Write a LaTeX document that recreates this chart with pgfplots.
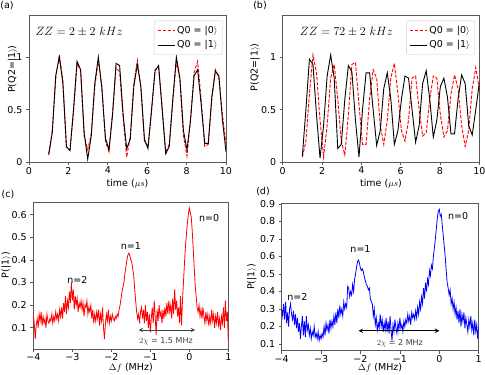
\documentclass[border=0pt]{standalone}
\usepackage{fontspec}
\setmainfont{DejaVu Sans}
\usepackage{pgfplots}
\pgfplotsset{compat=1.18}

\newcommand\tk{\fontsize{9.5}{11}\selectfont}

\pgfplotsset{
  panel/.style={
    scale only axis,
    axis line style={black!65, line width=0.6pt},
    tick style={black!65, line width=0.6pt},
    tick align=outside, major tick length=3pt,
    xtick pos=bottom, ytick pos=left,
    ticklabel style={font=\tk},
    xticklabel style={inner sep=1.5pt},
    label style={font=\tk},
    /pgf/number format/assume math mode=true,
  },
  timepanel/.style={
    panel, xmin=0, xmax=10, ymin=0, ymax=1.4,
    xtick={0,2,4,6,8,10}, xticklabels={0,2,4,6,8,10},
    ytick={0,0.5,1}, yticklabels={0,0.5,1},
    xlabel={time ($\mu s$)}, ylabel={P(Q2=|1$\rangle$)},
    xlabel style={at={(axis description cs:0.5,-0.143)}, anchor=center},
    legend cell align=left,
    legend style={anchor=north east, draw=black!20, rounded corners=2pt,
      font=\tk, fill=white, row sep=2pt, inner sep=3pt},
  },
  specpanel/.style={
    panel, xmin=-4, xmax=1,
    xtick={-4,-3,-2,-1,0,1}, xticklabels={−4,−3,−2,−1,0,1},
    xlabel={$\Delta f$ (MHz)}, ylabel={P(|1$\rangle$)},
  },
  zero/.style={red, line width=0.9pt, dash pattern=on 3.5pt off 1.5pt},
  one/.style={black, line width=0.9pt},
}

% time traces, t = 1 + 0.18 k
\pgfplotstableread{
t     a0    a1    b0    b1
1.00  0.08  0.07  0.05  0.06
1.18  0.30  0.28  0.20  0.50
1.36  0.80  0.83  0.65  0.98
1.54  1.02  1.00  1.02  0.93
1.72  0.78  0.75  0.85  0.45
1.90  0.14  0.15  0.40  0.04
2.08  0.12  0.11  0.05  0.35
2.26  0.48  0.50  0.35  0.82
2.44  0.94  0.96  0.80  1.02
2.62  0.87  0.88  0.93  0.80
2.80  0.25  0.28  0.60  0.13
2.98  0.12  0.03  0.20  0.17
3.16  0.27  0.25  0.07  0.60
3.34  0.72  0.75  0.45  0.92
3.52  0.97  1.00  0.93  0.86
3.70  0.72  0.70  0.95  0.40
3.88  0.20  0.23  0.55  0.05
4.06  0.10  0.12  0.17  0.50
4.24  0.47  0.45  0.17  0.85
4.42  0.90  0.94  0.60  0.85
4.60  0.86  0.92  0.88  0.50
4.78  0.42  0.45  0.80  0.16
4.96  0.05  0.13  0.35  0.30
5.14  0.25  0.22  0.17  0.70
5.32  0.75  0.72  0.40  0.85
5.50  0.97  0.93  0.80  0.60
5.68  0.70  0.72  0.94  0.17
5.86  0.20  0.22  0.65  0.30
6.04  0.15  0.13  0.30  0.60
6.22  0.48  0.50  0.20  0.82
6.40  0.88  0.87  0.40  0.80
6.58  0.90  0.92  0.80  0.50
6.76  0.52  0.50  0.82  0.19
6.94  0.10  0.08  0.50  0.35
7.12  0.17  0.15  0.25  0.75
7.30  0.58  0.60  0.28  0.87
7.48  0.96  1.00  0.60  0.60
7.66  0.78  0.80  0.82  0.24
7.84  0.25  0.30  0.80  0.40
8.02  0.06  0.12  0.45  0.72
8.20  0.42  0.40  0.24  0.80
8.38  0.85  0.82  0.30  0.62
8.56  0.96  0.88  0.65  0.27
8.74  0.60  0.55  0.83  0.27
8.92  0.15  0.18  0.70  0.60
9.10  0.17  0.18  0.35  0.83
9.28  0.60  0.62  0.15  0.75
9.46  0.88  0.87  0.30  0.35
9.64  0.80  0.82  0.70  0.26
9.82  0.45  0.40  0.90  0.50
10.00 0.17  0.10  0.70  0.75
}\timedata

\pgfplotstableread{
f      c     d
-4.000 0.156 0.30
-3.975 0.12 0.26
-3.950 0.05 0.33
-3.925 0.11 0.24
-3.900 0.14 0.34
-3.875 0.10 0.22
-3.850 0.16 0.28
-3.825 0.13 0.20
-3.800 0.17 0.30
-3.775 0.11 0.33
-3.750 0.15 0.27
-3.725 0.12 0.24
-3.700 0.14 0.29
-3.675 0.10 0.21
-3.650 0.16 0.27
-3.625 0.13 0.19
-3.600 0.12 0.25
-3.575 0.14 0.17
-3.550 0.13 0.22
-3.525 0.16 0.13
-3.500 0.12 0.20
-3.475 0.15 0.26
-3.450 0.13 0.15
-3.425 0.17 0.23
-3.400 0.14 0.14
-3.375 0.16 0.26
-3.350 0.13 0.18
-3.325 0.18 0.21
-3.300 0.15 0.15
-3.275 0.19 0.19
-3.250 0.14 0.13
-3.225 0.21 0.17
-3.200 0.17 0.15
-3.175 0.24 0.20
-3.150 0.16 0.14
-3.125 0.22 0.16
-3.100 0.19 0.13
-3.075 0.26 0.17
-3.050 0.21 0.12
-3.025 0.30 0.15
-3.000 0.22 0.13
-2.975 0.27 0.16
-2.950 0.18 0.14
-2.925 0.24 0.20
-2.900 0.20 0.15
-2.875 0.23 0.22
-2.850 0.17 0.18
-2.825 0.21 0.21
-2.800 0.19 0.16
-2.775 0.22 0.24
-2.750 0.18 0.19
-2.725 0.21 0.23
-2.700 0.15 0.20
-2.675 0.20 0.26
-2.650 0.19 0.21
-2.625 0.22 0.28
-2.600 0.16 0.22
-2.575 0.19 0.30
-2.550 0.17 0.25
-2.525 0.20 0.32
-2.500 0.14 0.27
-2.475 0.18 0.30
-2.450 0.12 0.26
-2.425 0.16 0.34
-2.400 0.13 0.30
-2.375 0.17 0.33
-2.350 0.14 0.31
-2.325 0.18 0.43
-2.300 0.11 0.42
-2.275 0.16 0.37
-2.250 0.13 0.40
-2.225 0.19 0.38
-2.200 0.10 0.44
-2.175 0.05 0.40
-2.150 0.12 0.47
-2.125 0.16 0.50
-2.100 0.13 0.54
-2.075 0.18 0.57
-2.050 0.12 0.58
-2.025 0.15 0.56
-2.000 0.13 0.53
-1.975 0.16 0.52
-1.950 0.14 0.53
-1.925 0.13 0.51
-1.900 0.15 0.48
-1.875 0.14 0.46
-1.850 0.16 0.44
-1.825 0.15 0.43
-1.800 0.18 0.41
-1.775 0.20 0.42
-1.750 0.23 0.36
-1.725 0.26 0.34
-1.700 0.28 0.33
-1.675 0.30 0.26
-1.650 0.34 0.30
-1.625 0.37 0.21
-1.600 0.40 0.25
-1.575 0.42 0.18
-1.550 0.43 0.22
-1.525 0.42 0.19
-1.500 0.40 0.27
-1.475 0.39 0.20
-1.450 0.36 0.24
-1.425 0.33 0.17
-1.400 0.27 0.22
-1.375 0.22 0.18
-1.350 0.17 0.25
-1.325 0.14 0.17
-1.300 0.16 0.23
-1.275 0.12 0.16
-1.250 0.17 0.26
-1.225 0.19 0.18
-1.200 0.14 0.12
-1.175 0.18 0.21
-1.150 0.12 0.17
-1.125 0.20 0.24
-1.100 0.13 0.19
-1.075 0.17 0.16
-1.050 0.10 0.22
-1.025 0.16 0.18
-1.000 0.08 0.25
-0.975 0.14 0.19
-0.950 0.19 0.21
-0.925 0.12 0.17
-0.900 0.22 0.23
-0.875 0.15 0.20
-0.850 0.07 0.24
-0.825 0.18 0.22
-0.800 0.13 0.27
-0.775 0.20 0.23
-0.750 0.15 0.26
-0.725 0.17 0.21
-0.700 0.12 0.28
-0.675 0.18 0.25
-0.650 0.14 0.27
-0.625 0.19 0.24
-0.600 0.15 0.29
-0.575 0.21 0.25
-0.550 0.16 0.31
-0.525 0.22 0.27
-0.500 0.17 0.34
-0.475 0.20 0.30
-0.450 0.14 0.37
-0.425 0.23 0.33
-0.400 0.16 0.42
-0.375 0.27 0.36
-0.350 0.18 0.45
-0.325 0.22 0.40
-0.300 0.15 0.47
-0.275 0.19 0.44
-0.250 0.12 0.52
-0.225 0.24 0.49
-0.200 0.11 0.55
-0.175 0.22 0.53
-0.150 0.30 0.60
-0.125 0.38 0.65
-0.100 0.46 0.70
-0.075 0.51 0.76
-0.050 0.56 0.82
-0.025 0.60 0.86
0.000  0.63 0.87
0.025  0.61 0.83
0.050  0.59 0.84
0.075  0.53 0.78
0.100  0.45 0.72
0.125  0.37 0.66
0.150  0.29 0.60
0.175  0.24 0.52
0.200  0.19 0.45
0.225  0.17 0.42
0.250  0.20 0.38
0.275  0.15 0.41
0.300  0.18 0.33
0.325  0.14 0.36
0.350  0.19 0.30
0.375  0.15 0.34
0.400  0.12 0.27
0.425  0.17 0.31
0.450  0.13 0.24
0.475  0.16 0.29
0.500  0.11 0.22
0.525  0.15 0.30
0.550  0.12 0.20
0.575  0.18 0.27
0.600  0.13 0.23
0.625  0.16 0.28
0.650  0.10 0.19
0.675  0.15 0.25
0.700  0.12 0.21
0.725  0.17 0.17
0.750  0.11 0.24
0.775  0.14 0.20
0.800  0.09 0.26
0.825  0.15 0.18
0.850  0.12 0.22
0.875  0.19 0.15
0.900  0.10 0.24
0.925  0.22 0.17
0.950  0.13 0.21
0.975  0.17 0.13
1.000  0.04 0.20
}\specdata

\begin{document}
\begin{tikzpicture}[x=1pt,y=1pt]
\useasboundingbox (0,0) rectangle (485,375);

% (a)
\begin{axis}[timepanel, at={(29pt,212.7pt)}, anchor=south west,
  width=197pt, height=147.3pt, legend style={at={(0.983,0.961)}},
  ylabel style={at={(axis description cs:-0.083,0.633)}, anchor=center}]
\addplot[zero] table[x=t, y=a0] {\timedata};
\addlegendentry{Q0 = |0$\rangle$}
\addplot[one] table[x=t, y=a1] {\timedata};
\addlegendentry{Q0 = |1$\rangle$}
\node[font=\fontsize{12}{14}\selectfont] at (axis cs:2.54,1.244) {$ZZ = 2 \pm 2\ kHz$};
\end{axis}

% (b)
\begin{axis}[timepanel, at={(282.7pt,212.7pt)}, anchor=south west,
  width=196.6pt, height=147.3pt, legend style={at={(0.978,0.961)}},
  ylabel style={at={(axis description cs:-0.14,0.645)}, anchor=center}]
\addplot[zero] table[x=t, y=b0] {\timedata};
\addlegendentry{Q0 = |0$\rangle$}
\addplot[one] table[x=t, y=b1] {\timedata};
\addlegendentry{Q0 = |1$\rangle$}
\node[font=\fontsize{12}{14}\selectfont] at (axis cs:3.24,1.244) {$ZZ = 72 \pm 2\ kHz$};
\end{axis}

% (c)
\begin{axis}[specpanel, at={(33.3pt,26pt)}, anchor=south west,
  width=195pt, height=146.3pt, ymin=0.006, ymax=0.653,
  ytick={0.1,0.2,0.3,0.4,0.5,0.6}, yticklabels={0.1,0.2,0.3,0.4,0.5,0.6},
  ylabel style={at={(axis description cs:-0.14,0.574)}, anchor=center},
  xlabel style={at={(axis description cs:0.5,-0.128)}, anchor=center}]
\addplot[red, line width=0.8pt] table[x=f, y=c] {\specdata};
\draw[<->, >=stealth, line width=1pt, black!75] (axis cs:-1.3,0.09) -- (axis cs:0.15,0.09);
\node[font=\fontsize{8}{9}\selectfont, black!75] at (axis cs:-0.6,0.04) {$2\chi$ = 1.5 MHz};
\node[font=\tk] at (axis cs:0.51,0.585) {n=0};
\node[font=\tk] at (axis cs:-1.5,0.46) {n=1};
\node[font=\tk] at (axis cs:-2.87,0.31) {n=2};
\end{axis}

% (d)
\begin{axis}[specpanel, at={(281.7pt,24.3pt)}, anchor=south west,
  width=197pt, height=147.4pt, ymin=0.062, ymax=0.904,
  ytick={0.1,0.2,0.3,0.4,0.5,0.6,0.7,0.8,0.9},
  yticklabels={0.1,0.2,0.3,0.4,0.5,0.6,0.7,0.8,0.9},
  ylabel style={at={(axis description cs:-0.151,0.5)}, anchor=center},
  xlabel style={at={(axis description cs:0.5,-0.117)}, anchor=center}]
\addplot[blue, line width=0.8pt] table[x=f, y=d] {\specdata};
\draw[<->, >=stealth, line width=1pt, black] (axis cs:-2.05,0.176) -- (axis cs:0,0.176);
\node[font=\fontsize{8}{9}\selectfont, black!75] at (axis cs:-1.0,0.104) {$2\chi$ = 2 MHz};
\node[font=\tk] at (axis cs:0.48,0.83) {n=0};
\node[font=\tk] at (axis cs:-2.0,0.64) {n=1};
\node[font=\tk] at (axis cs:-3.6,0.37) {n=2};
\end{axis}

\node[font=\tk] at (7,369) {(a)};
\node[font=\tk] at (260,369) {(b)};
\node[font=\tk] at (8,180) {(c)};
\node[font=\tk] at (263,183) {(d)};
\end{tikzpicture}
\end{document}
